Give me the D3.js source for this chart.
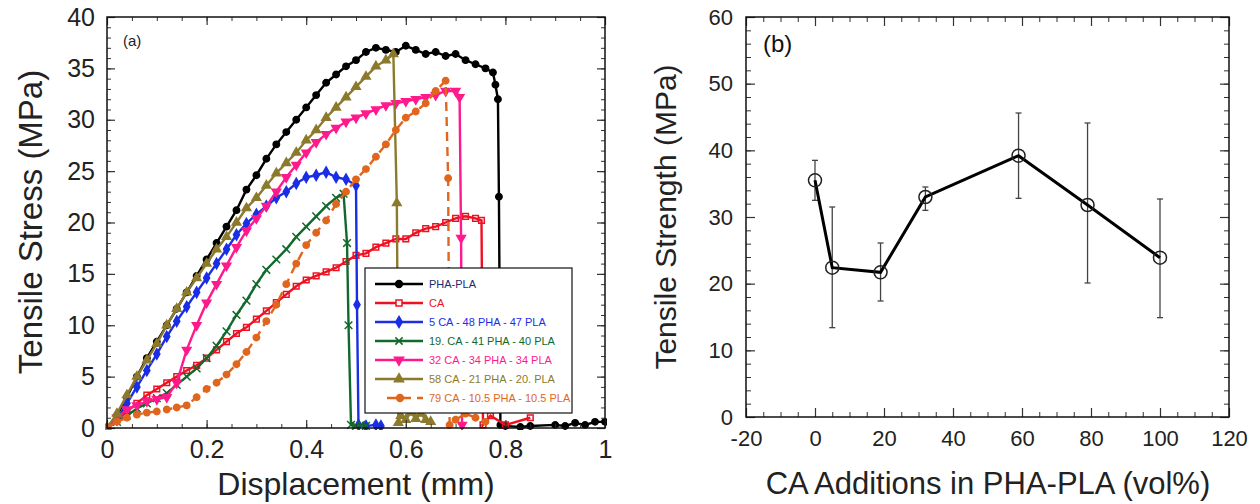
<!DOCTYPE html>
<html>
<head>
<meta charset="utf-8">
<script src="https://cdn.jsdelivr.net/npm/d3@7"></script>
<style>
  body { margin: 0; background: #fff; }
  svg { display: block; font-family: "Liberation Sans", Arial, sans-serif; }
</style>
</head>
<body>
<svg id="chart" width="1260" height="504"></svg>
<script>
// ---- panel (a): stress vs displacement, [displacement mm, stress MPa]
const phaPla = [[0,0],[0.02,1.2],[0.04,3.0],[0.06,5.0],[0.08,6.8],[0.10,8.4],[0.12,10.0],[0.14,11.6],[0.16,13.2],[0.18,14.8],[0.20,16.4],[0.22,18.0],[0.24,19.6],[0.26,21.2],[0.28,23.2],[0.30,24.6],[0.32,26.2],[0.34,27.6],[0.36,28.8],[0.38,30.0],[0.40,31.2],[0.42,32.4],[0.44,33.6],[0.46,34.4],[0.48,35.2],[0.50,35.8],[0.52,36.6],[0.54,37.0],[0.56,36.8],[0.58,36.6],[0.60,37.2],[0.62,36.8],[0.64,36.4],[0.66,36.6],[0.68,36.2],[0.70,36.4],[0.72,35.8],[0.74,35.4],[0.76,35.0],[0.775,34.6],[0.78,33.4],[0.785,32.0],[0.787,22.5],[0.79,0.3],[0.80,0.2],[0.83,0.1],[0.85,0.2],[0.90,0.3],[0.92,0.2],[0.94,0.5],[0.96,0.3],[0.98,0.6],[1.0,0.6]]
const ca = [[0,0],[0.02,0.8],[0.04,1.6],[0.06,2.4],[0.08,3.2],[0.10,3.8],[0.12,4.4],[0.14,5.0],[0.16,5.6],[0.18,6.1],[0.20,6.8],[0.22,7.6],[0.24,8.4],[0.26,9.2],[0.28,9.8],[0.30,10.6],[0.32,11.4],[0.34,12.2],[0.36,13.0],[0.38,13.8],[0.40,14.4],[0.42,14.8],[0.44,15.2],[0.46,15.6],[0.48,16.2],[0.50,16.8],[0.52,17.0],[0.54,17.6],[0.56,18.0],[0.58,18.4],[0.60,18.4],[0.62,19.0],[0.64,19.4],[0.66,19.6],[0.68,20.0],[0.70,20.4],[0.72,20.6],[0.74,20.4],[0.752,20.2],[0.755,0.3],[0.77,1.2],[0.80,0.3],[0.85,1.0]]
const ca5 = [[0,0],[0.02,0.8],[0.04,2.4],[0.06,4.0],[0.08,5.6],[0.10,7.2],[0.12,8.9],[0.14,10.4],[0.16,11.8],[0.18,13.2],[0.20,14.6],[0.22,16.0],[0.24,17.4],[0.26,18.8],[0.28,19.9],[0.30,20.8],[0.32,21.6],[0.34,22.4],[0.36,23.0],[0.38,23.8],[0.40,24.4],[0.42,24.6],[0.44,24.9],[0.46,24.4],[0.48,24.2],[0.50,23.6],[0.502,12.0],[0.505,0.3],[0.52,0.2],[0.54,0.3],[0.55,0.2]]
const ca19 = [[0,0],[0.02,0.6],[0.04,1.2],[0.06,1.9],[0.08,2.4],[0.10,2.9],[0.12,3.4],[0.14,4.2],[0.16,5.0],[0.18,5.8],[0.20,6.8],[0.22,8.0],[0.24,9.4],[0.26,11.0],[0.28,12.4],[0.30,14.0],[0.32,15.4],[0.34,16.4],[0.36,17.4],[0.38,18.6],[0.40,19.6],[0.42,20.6],[0.44,21.6],[0.46,22.4],[0.475,22.8],[0.482,18.0],[0.485,10.0],[0.49,0.3],[0.50,0.2],[0.51,0.3],[0.52,0.2]]
const ca32 = [[0,0],[0.02,1.0],[0.04,1.8],[0.06,2.2],[0.08,2.6],[0.10,2.8],[0.12,3.0],[0.14,4.4],[0.16,7.6],[0.18,10.0],[0.20,12.2],[0.22,14.0],[0.24,15.8],[0.26,17.6],[0.28,19.2],[0.30,20.4],[0.32,21.6],[0.34,23.0],[0.36,24.4],[0.38,25.6],[0.40,26.8],[0.42,27.8],[0.44,28.6],[0.46,29.2],[0.48,29.8],[0.50,30.2],[0.52,30.6],[0.54,31.0],[0.56,31.4],[0.58,31.6],[0.60,31.8],[0.62,32.0],[0.64,32.2],[0.66,32.4],[0.68,32.8],[0.70,32.8],[0.708,32.2],[0.711,18.5],[0.713,0.3]]
const ca58 = [[0,0],[0.02,1.4],[0.04,3.2],[0.06,5.0],[0.08,6.6],[0.10,8.2],[0.12,10.0],[0.14,11.6],[0.16,13.2],[0.18,14.6],[0.20,16.0],[0.22,17.4],[0.24,18.6],[0.26,20.0],[0.28,21.4],[0.30,22.4],[0.32,23.6],[0.34,24.8],[0.36,25.8],[0.38,26.8],[0.40,28.0],[0.42,29.0],[0.44,30.2],[0.46,31.2],[0.48,32.2],[0.50,33.2],[0.52,34.2],[0.54,35.2],[0.56,35.8],[0.575,36.4],[0.582,21.9],[0.585,0.5],[0.59,1.2],[0.60,0.8],[0.61,1.5],[0.62,0.9],[0.63,1.4],[0.64,0.8],[0.65,0.6]]
const ca79 = [[0,0],[0.02,0.6],[0.04,1.0],[0.06,1.3],[0.08,1.5],[0.10,1.6],[0.12,1.8],[0.14,2.0],[0.16,2.2],[0.18,3.0],[0.20,3.8],[0.22,4.4],[0.24,5.2],[0.26,6.2],[0.28,7.4],[0.30,8.8],[0.32,10.4],[0.34,12.0],[0.36,14.0],[0.38,16.0],[0.40,17.8],[0.42,19.0],[0.44,20.2],[0.46,21.8],[0.48,23.0],[0.50,24.2],[0.52,25.2],[0.54,26.4],[0.56,27.6],[0.58,29.0],[0.60,30.2],[0.62,30.8],[0.64,31.6],[0.66,32.8],[0.68,33.8],[0.685,24.3],[0.688,0.3],[0.70,0.8],[0.72,1.4],[0.74,1.0],[0.76,0.6]]
const seriesNames = ['PHA-PLA', 'CA', '5 CA - 48 PHA - 47 PLA', '19. CA - 41 PHA - 40 PLA', '32 CA - 34 PHA - 34 PLA', '58 CA - 21 PHA - 20. PLA', '79 CA - 10.5 PHA - 10.5 PLA']
const dispTicks = [0, 0.2, 0.4, 0.6, 0.8, 1]
const stressTicks = [0, 5, 10, 15, 20, 25, 30, 35, 40]

// ---- panel (b): strength vs CA addition
const caAddition = [0, 5, 19, 32, 59, 79, 100]
const strength = [35.5, 22.4, 21.7, 33.0, 39.2, 31.8, 23.9]
const strengthLow = [32.5, 13.4, 17.4, 31.0, 32.8, 20.1, 14.9]
const strengthHigh = [38.5, 31.5, 26.1, 34.5, 45.6, 44.1, 32.7]
const additionTicks = [-20, 0, 20, 40, 60, 80, 100, 120]
const strengthTicks = [0, 10, 20, 30, 40, 50, 60]

const svg = d3.select('#chart')
svg.append('rect').attr('width', 1260).attr('height', 504).attr('fill', '#fff')

// plain hyphen for negatives, like the original figure
const plainFmt = d => String(d)

// draws a framed box with inward ticks on all four sides
function frame(g, x, y, opt) {
  const [x0, x1] = x.range()
  const [y0, y1] = y.range()
  const tickCol = '#333'
  const sides = [
    [() => d3.axisBottom(x), `translate(0,${y0})`, opt.xMinor, opt.xTicks, true],
    [() => d3.axisTop(x), `translate(0,${y1})`, opt.xMinor, opt.xTicks, false],
    [() => d3.axisLeft(y), `translate(${x0},0)`, opt.yMinor, opt.yTicks, true],
    [() => d3.axisRight(y), `translate(${x1},0)`, opt.yMinor, opt.yTicks, false]
  ]
  for (const [makeAxis, tr, minor, major, labelled] of sides) {
    const gm = g.append('g').attr('transform', tr)
      .call(makeAxis().tickValues(minor).tickSize(-opt.minorLen).tickFormat(''))
    gm.select('.domain').remove()
    gm.selectAll('line').attr('stroke', tickCol)
    const gM = g.append('g').attr('transform', tr)
      .call(makeAxis().tickValues(major).tickSize(-opt.majorLen).tickPadding(labelled ? opt.pad : 0)
        .tickFormat(labelled ? plainFmt : ''))
    gM.select('.domain').remove()
    gM.selectAll('line').attr('stroke', tickCol).attr('stroke-width', 1.2)
    gM.selectAll('text').attr('font-size', opt.fontSize).attr('fill', '#222')
      .attr('font-family', '"Liberation Sans", Arial, sans-serif')
  }
  g.append('rect')
    .attr('x', x0).attr('y', y1).attr('width', x1 - x0).attr('height', y0 - y1)
    .attr('fill', 'none').attr('stroke', '#111').attr('stroke-width', 1.5)
}

// ================= panel (a)
const xA = d3.scaleLinear().domain([0, 1]).range([107, 605])
const yA = d3.scaleLinear().domain([0, 40]).range([428, 17])
const gA = svg.append('g')

svg.append('defs').append('clipPath').attr('id', 'clipA')
  .append('rect').attr('x', 105).attr('y', 15).attr('width', 502).attr('height', 415)

const series = [
  { data: phaPla, color: '#000000', sym: d3.symbolCircle, fill: true, rot: 0, text: '#1c2a6b' },
  { data: ca, color: '#ee1122', sym: d3.symbolSquare, fill: false, rot: 0, text: '#ee1122' },
  { data: ca5, color: '#1a2ee6', sym: d3.symbolDiamond, fill: true, rot: 0, text: '#1a2ee6' },
  { data: ca19, color: '#12692c', sym: d3.symbolTimes, fill: false, rot: 0, text: '#12692c' },
  { data: ca32, color: '#ff1a8c', sym: d3.symbolTriangle, fill: true, rot: 180, text: '#ff1a8c' },
  { data: ca58, color: '#8c7a2c', sym: d3.symbolTriangle, fill: true, rot: 0, text: '#8c7a2c' },
  { data: ca79, color: '#e0661e', sym: d3.symbolCircle, fill: true, rot: 0, text: '#e0661e', dash: '9,6' }
]

const lineA = d3.line().x(d => xA(d[0])).y(d => yA(d[1]))
const curves = gA.append('g').attr('clip-path', 'url(#clipA)')
series.forEach(s => {
  curves.append('path').datum(s.data)
    .attr('d', lineA)
    .attr('fill', 'none')
    .attr('stroke', s.color)
    .attr('stroke-width', 2.4)
    .attr('stroke-dasharray', s.dash || null)
  curves.append('g').selectAll('path').data(s.data).enter().append('path')
    .attr('transform', d => `translate(${xA(d[0])},${yA(d[1])}) rotate(${s.rot})`)
    .attr('d', d3.symbol().type(s.sym).size(s.sym === d3.symbolTimes ? 40 : 32))
    .attr('fill', s.fill ? s.color : 'none')
    .attr('stroke', s.color)
    .attr('stroke-width', 1.5)
})

frame(gA, xA, yA, {
  xTicks: dispTicks, xMinor: d3.range(0, 1.001, 0.05),
  yTicks: stressTicks, yMinor: d3.range(0, 40.5, 1),
  majorLen: 8, minorLen: 4, pad: 12, fontSize: 25
})

gA.append('text').attr('x', 123).attr('y', 46).attr('font-size', 15).attr('fill', '#222').text('(a)')

// legend
const leg = gA.append('g')
leg.append('rect').attr('x', 365).attr('y', 268).attr('width', 207).attr('height', 145)
  .attr('fill', '#fff').attr('stroke', '#111').attr('stroke-width', 1.2)
series.forEach((s, i) => {
  const yy = 284 + i * 19
  const x1 = i === 6 ? 387 : 375
  leg.append('line').attr('x1', x1).attr('x2', 423).attr('y1', yy).attr('y2', yy)
    .attr('stroke', s.color).attr('stroke-width', 2.4).attr('stroke-dasharray', s.dash || null)
  leg.append('path')
    .attr('transform', `translate(${i === 6 ? 400 : 399},${yy}) rotate(${s.rot})`)
    .attr('d', d3.symbol().type(s.sym).size(36))
    .attr('fill', s.fill ? s.color : '#fff').attr('stroke', s.color).attr('stroke-width', 1.5)
  leg.append('text').attr('x', 429).attr('y', yy).attr('dy', '0.35em')
    .attr('font-size', 11).attr('fill', s.text).text(seriesNames[i])
})

gA.append('text').attr('x', 356).attr('y', 495).attr('text-anchor', 'middle')
  .attr('font-size', 32).attr('fill', '#222').text('Displacement (mm)')
gA.append('text').attr('transform', 'translate(42,222) rotate(-90)').attr('text-anchor', 'middle')
  .attr('font-size', 33).attr('fill', '#222').text('Tensile Stress (MPa)')

// ================= panel (b)
const xB = d3.scaleLinear().domain([-20, 120]).range([746, 1229])
const yB = d3.scaleLinear().domain([0, 60]).range([417, 17])
const gB = svg.append('g')

frame(gB, xB, yB, {
  xTicks: additionTicks, xMinor: d3.range(-20, 120.1, 5),
  yTicks: strengthTicks, yMinor: d3.range(0, 60.1, 2),
  majorLen: 9, minorLen: 5, pad: 13, fontSize: 22
})

const pts = caAddition.map((c, i) => ({ c, v: strength[i], lo: strengthLow[i], hi: strengthHigh[i] }))
const err = gB.append('g').attr('stroke', '#444').attr('stroke-width', 1.3)
err.selectAll('line.v').data(pts).enter().append('line')
  .attr('x1', d => xB(d.c)).attr('x2', d => xB(d.c))
  .attr('y1', d => yB(d.lo)).attr('y2', d => yB(d.hi))
err.selectAll('line.t').data(pts).enter().append('line')
  .attr('x1', d => xB(d.c) - 3).attr('x2', d => xB(d.c) + 3)
  .attr('y1', d => yB(d.hi)).attr('y2', d => yB(d.hi))
err.selectAll('line.b').data(pts).enter().append('line')
  .attr('x1', d => xB(d.c) - 3).attr('x2', d => xB(d.c) + 3)
  .attr('y1', d => yB(d.lo)).attr('y2', d => yB(d.lo))

gB.append('path').datum(pts)
  .attr('d', d3.line().x(d => xB(d.c)).y(d => yB(d.v)))
  .attr('fill', 'none').attr('stroke', '#000').attr('stroke-width', 3)
gB.append('g').selectAll('circle').data(pts).enter().append('circle')
  .attr('cx', d => xB(d.c)).attr('cy', d => yB(d.v)).attr('r', 6.5)
  .attr('fill', 'none').attr('stroke', '#222').attr('stroke-width', 1.5)

gB.append('text').attr('x', 763).attr('y', 52).attr('font-size', 24).attr('fill', '#111').text('(b)')
gB.append('text').attr('x', 988).attr('y', 494).attr('text-anchor', 'middle')
  .attr('font-size', 31).attr('fill', '#222').text('CA Additions in PHA-PLA (vol%)')
gB.append('text').attr('transform', 'translate(676,217) rotate(-90)').attr('text-anchor', 'middle')
  .attr('font-size', 30).attr('fill', '#222').text('Tensile Strength (MPa)')
</script>
